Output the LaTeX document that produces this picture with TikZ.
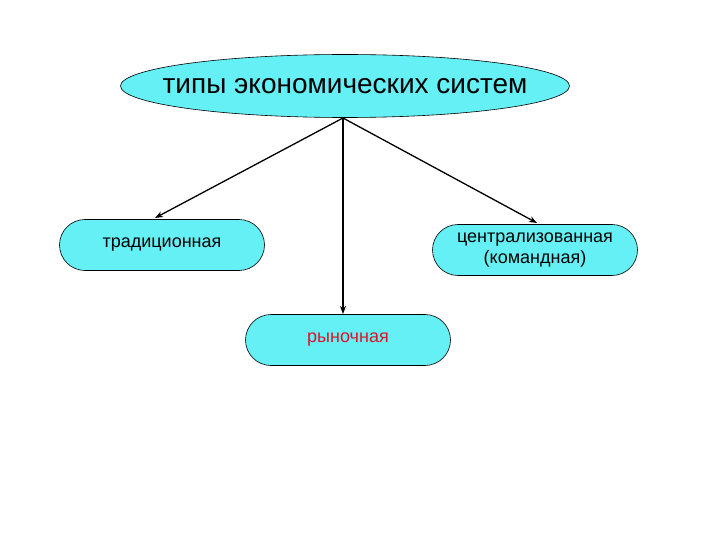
\documentclass[tikz,border=0pt]{standalone}
\usepackage{fontspec}
\setmainfont{Liberation Sans}
\usetikzlibrary{shapes.geometric,shapes.misc,arrows.meta}
\definecolor{boxfill}{RGB}{100,240,245}
\definecolor{mkt}{RGB}{220,20,40}
\tikzset{
  pill/.style={draw=black, fill=boxfill, rounded rectangle, minimum width=205pt, minimum height=51pt, inner sep=0pt, font=\fontsize{18}{21}\selectfont, align=center, line width=0.6pt},
  conn/.style={-{Stealth[length=8pt,width=6pt]}, line width=1.3pt}
}
\begin{document}
\begin{tikzpicture}[x=1pt,y=-1pt]
\useasboundingbox (0,0) rectangle (720,540);
\node[draw=black, fill=boxfill, ellipse, minimum width=449pt, minimum height=63pt, inner xsep=-40pt, inner ysep=0pt, font=\fontsize{28}{32}\selectfont, line width=0.6pt] (top) at (345,86) {типы экономических систем};
\node[pill] (trad) at (162,245) {традиционная};
\node[pill] (cent) at (535,250) {централизованная\\(командная)};
\node[pill, text=mkt] (mark) at (348,340) {рыночная};
\coordinate (src) at (343,118);
\coordinate (t1) at (155,218);
\coordinate (t2) at (343,314);
\coordinate (t3) at (537,223);
\draw[conn] (src) -- (t1);
\draw[conn] (src) -- (t2);
\draw[conn] (src) -- (t3);
\end{tikzpicture}
\end{document}
